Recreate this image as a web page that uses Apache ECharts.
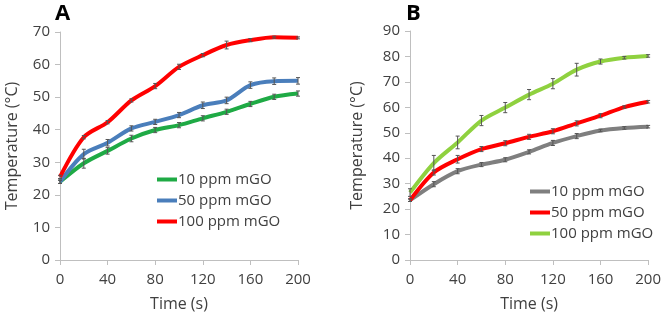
<!DOCTYPE html>
<html>
<head>
<meta charset="utf-8">
<script src="https://cdn.jsdelivr.net/npm/echarts@6/dist/echarts.min.js"></script>
<style>
  html, body { margin: 0; padding: 0; background: #fff; }
  #chart { width: 664px; height: 317px; }
</style>
</head>
<body>
<div id="chart"></div>
<script>
// time points (s)
const times = [0, 20, 40, 60, 80, 100, 120, 140, 160, 180, 200]

// panel A
const a10 = [24, 29.7, 33.5, 37.3, 39.9, 41.4, 43.5, 45.5, 47.9, 50.1, 51.1]
const a50 = [24, 32.5, 36, 40.4, 42.4, 44.5, 47.5, 49, 53.7, 54.9, 55]
const a100 = [25.5, 37.7, 42.3, 49, 53.4, 59.3, 62.9, 66, 67.5, 68.4, 68.2]
const a10Err = [0.5, 1.5, 1, 1, 0.8, 0.8, 0.8, 0.8, 0.8, 0.8, 0.8]
const a50Err = [0.5, 1.5, 1, 0.8, 0.8, 0.8, 1, 1, 1, 1, 1]
const a100Err = [0.5, 0.5, 0.5, 0.5, 0.8, 0.8, 0.5, 1.2, 0.5, 0.3, 0.3]

// panel B
const b10 = [23.5, 29.8, 34.9, 37.5, 39.4, 42.5, 46, 48.7, 50.9, 51.9, 52.4]
const b50 = [23.5, 34.4, 39.6, 43.6, 45.9, 48.4, 50.6, 53.7, 56.7, 60.1, 62.2]
const b100 = [26.5, 38.1, 46.2, 54.8, 59.9, 65, 69.3, 74.8, 78, 79.5, 80.2]
const b10Err = [0.5, 1, 1, 0.8, 0.8, 0.8, 1, 1, 0.5, 0.5, 0.5]
const b50Err = [0.5, 1, 1.5, 1, 1, 1, 1, 1, 0.8, 0.5, 0.5]
const b100Err = [1.5, 3, 2.5, 2, 2, 2, 2, 2.5, 1, 0.5, 0.5]

const xTicksMax = 200
const aYMax = 70
const bYMax = 90

const fontFamily = "'Open Sans', 'Noto Sans', sans-serif"
const axisColor = '#bfbfbf'
const textColor = '#404040'

function pairs (vals) {
  return vals.map((v, i) => [times[i], v])
}

function lineSeries (name, vals, color, idx) {
  return {
    name: name,
    type: 'line',
    xAxisIndex: idx,
    yAxisIndex: idx,
    data: pairs(vals),
    smooth: 0.3,
    symbol: 'none',
    lineStyle: { width: 4, color: color },
    itemStyle: { color: color },
    z: 2
  }
}

// 误差棒
function errSeries (vals, errs, idx) {
  return {
    type: 'custom',
    xAxisIndex: idx,
    yAxisIndex: idx,
    silent: true,
    z: 3,
    data: vals.map((v, i) => [times[i], v - errs[i], v + errs[i]]),
    renderItem: function (params, api) {
      const lo = api.coord([api.value(0), api.value(1)])
      const hi = api.coord([api.value(0), api.value(2)])
      const cap = 2
      const style = { stroke: '#555', lineWidth: 1 }
      return {
        type: 'group',
        children: [
          { type: 'line', shape: { x1: lo[0], y1: lo[1], x2: hi[0], y2: hi[1] }, style: style },
          { type: 'line', shape: { x1: lo[0] - cap, y1: lo[1], x2: lo[0] + cap, y2: lo[1] }, style: style },
          { type: 'line', shape: { x1: hi[0] - cap, y1: hi[1], x2: hi[0] + cap, y2: hi[1] }, style: style }
        ]
      }
    }
  }
}

function xAxis (idx) {
  return {
    gridIndex: idx,
    type: 'value',
    min: 0,
    max: xTicksMax,
    interval: 40,
    name: 'Time (s)',
    nameLocation: 'middle',
    nameGap: 36,
    nameTextStyle: { fontSize: 16, color: textColor, fontFamily: fontFamily },
    axisLine: { show: true, lineStyle: { color: axisColor, width: 1 } },
    axisTick: { show: true, length: 5, lineStyle: { color: axisColor } },
    axisLabel: { fontSize: 15, color: textColor, fontFamily: fontFamily, margin: 12 },
    splitLine: { show: false }
  }
}

function yAxis (idx, max, gap) {
  return {
    gridIndex: idx,
    type: 'value',
    min: 0,
    max: max,
    interval: 10,
    name: 'Temperature (°C)',
    nameLocation: 'middle',
    nameRotate: 90,
    nameGap: gap,
    nameTextStyle: { fontSize: 16, color: textColor, fontFamily: fontFamily },
    axisLine: { show: true, lineStyle: { color: axisColor, width: 1 } },
    axisTick: { show: true, length: 5, lineStyle: { color: axisColor } },
    axisLabel: { fontSize: 15, color: textColor, fontFamily: fontFamily, margin: 10 },
    splitLine: { show: false }
  }
}

function legend (left, top, names) {
  return {
    left: left,
    top: top,
    orient: 'vertical',
    itemGap: 6,
    itemWidth: 20,
    itemHeight: 4,
    icon: 'rect',
    data: names,
    textStyle: { fontSize: 15, color: textColor, fontFamily: fontFamily, padding: [0, 0, 0, -4] }
  }
}

const chart = echarts.init(document.getElementById('chart'))
chart.setOption({
  animation: false,
  title: [
    { text: 'A', left: 50, top: -2, textStyle: { fontSize: 22, fontWeight: 'bold', color: '#000', fontFamily: fontFamily } },
    { text: 'B', left: 401, top: -2, textStyle: { fontSize: 22, fontWeight: 'bold', color: '#000', fontFamily: fontFamily } }
  ],
  grid: [
    { left: 60, right: 366, top: 32, bottom: 57 },
    { left: 410, right: 14, top: 31, bottom: 51 }
  ],
  xAxis: [xAxis(0), xAxis(1)],
  yAxis: [yAxis(0, aYMax, 40), yAxis(1, bYMax, 45)],
  legend: [
    legend(152, 167, ['10 ppm mGO', '50 ppm mGO', '100 ppm mGO']),
    legend(525, 179, ['10 ppm mGO ', '50 ppm mGO ', '100 ppm mGO '])
  ],
  series: [
    lineSeries('10 ppm mGO', a10, '#1faa45', 0),
    lineSeries('50 ppm mGO', a50, '#4a7ebb', 0),
    lineSeries('100 ppm mGO', a100, '#ff0000', 0),
    errSeries(a10, a10Err, 0),
    errSeries(a50, a50Err, 0),
    errSeries(a100, a100Err, 0),
    lineSeries('10 ppm mGO ', b10, '#7f7f7f', 1),
    lineSeries('50 ppm mGO ', b50, '#ff0000', 1),
    lineSeries('100 ppm mGO ', b100, '#8fd13f', 1),
    errSeries(b10, b10Err, 1),
    errSeries(b50, b50Err, 1),
    errSeries(b100, b100Err, 1)
  ]
})
</script>
</body>
</html>
